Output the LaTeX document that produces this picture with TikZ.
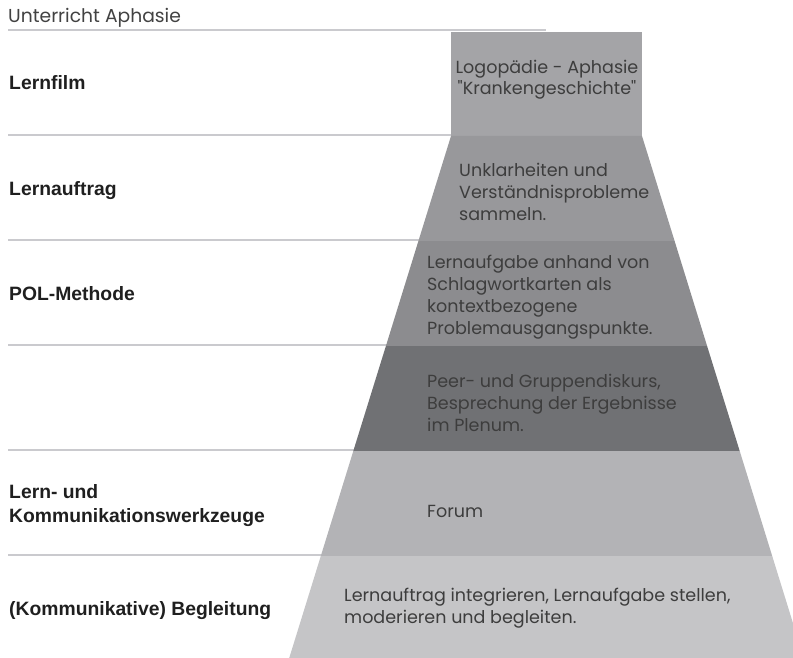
\documentclass[tikz,border=0pt]{standalone}
\usepackage{fontspec}
\newfontfamily\stufenfont{Poppins}
\newfontfamily\rowfont{Liberation Sans}
\usetikzlibrary{positioning}

\definecolor{trennlinie}{HTML}{CACACE}
\definecolor{stufeA}{HTML}{A4A4A7}
\definecolor{stufeB}{HTML}{98989B}
\definecolor{stufeC}{HTML}{8C8C8F}
\definecolor{stufeD}{HTML}{707174}
\definecolor{stufeE}{HTML}{B3B3B6}
\definecolor{stufeF}{HTML}{C5C5C7}

\tikzset{
	zeile/.style={anchor=base west, inner sep=0pt, align=left, text=black!88,
		font=\rowfont\bfseries\fontsize{19.4}{24}\selectfont},
	inhalt/.style={anchor=base west, inner sep=0pt, align=left, text=black!76,
		font=\stufenfont\fontsize{17.6}{22}\selectfont}
}

\begin{document}
\begin{tikzpicture}[x=1bp, y=-1bp]
		\useasboundingbox (0,0) rectangle (793,658);
		\clip (0,0) rectangle (793,658);
		% Trennlinien der Zeilen
		\draw[trennlinie, line width=1.5bp] (8,30) -- (546,30);
		\draw[trennlinie, line width=1.5bp] (8,135) -- (546,135);
		\draw[trennlinie, line width=1.5bp] (8,240) -- (546,240);
		\draw[trennlinie, line width=1.5bp] (8,345) -- (546,345);
		\draw[trennlinie, line width=1.5bp] (8,450) -- (546,450);
		\draw[trennlinie, line width=1.5bp] (8,555) -- (546,555);
		% Stufen des Trichters
		\fill[stufeA] (451,32) rectangle (642,136);
		\fill[stufeB] (451,136) -- (642,136) -- (674.6,241) -- (418.4,241) -- cycle;
		\fill[stufeC] (418.4,241) -- (674.6,241) -- (707.1,346) -- (385.9,346) -- cycle;
		\fill[stufeD] (385.9,346) -- (707.1,346) -- (739.7,451) -- (353.3,451) -- cycle;
		\fill[stufeE] (353.3,451) -- (739.7,451) -- (772.2,556) -- (320.8,556) -- cycle;
		\fill[stufeF] (320.8,556) -- (772.2,556) -- (804.4,660) -- (288.6,660) -- cycle;
		% Titel und Zeilen (base = letzte Zeile)
		\node[inhalt, font=\stufenfont\fontsize{18.8}{22}\selectfont, text=black!74] (titel) at (8,23) {Unterricht Aphasie};
		\node[zeile] (lernfilm) at (9,90) {Lernfilm};
		\node[zeile] (lernauftrag) at (9,195) {Lernauftrag};
		\node[zeile] (pol) at (9,300) {POL-Methode};
		\node[zeile] (werkzeuge) at (9,522) {Lern- und\\Kommunikationswerkzeuge};
		\node[zeile] (begleitung) at (9,615) {(Kommunikative) Begleitung};
		% Inhalte der Stufen
		\node[inhalt, anchor=base, align=center] (film) at (547,95) {Logopädie - Aphasie\\"Krankengeschichte"};
		\node[inhalt] (sammeln) at (459,220) {Unklarheiten und\\Verständnisprobleme\\sammeln.};
		\node[inhalt] (aufgabe) at (427,334) {Lernaufgabe anhand von\\Schlagwortkarten als\\kontextbezogene\\Problemausgangspunkte.};
		\node[inhalt] (diskurs) at (427,431) {Peer- und Gruppendiskurs,\\Besprechung der Ergebnisse\\im Plenum.};
		\node[inhalt] (forum) at (427,517) {Forum};
		\node[inhalt] (moderation) at (344,623) {Lernauftrag integrieren, Lernaufgabe stellen,\\moderieren und begleiten.};
	\end{tikzpicture}
\end{document}
